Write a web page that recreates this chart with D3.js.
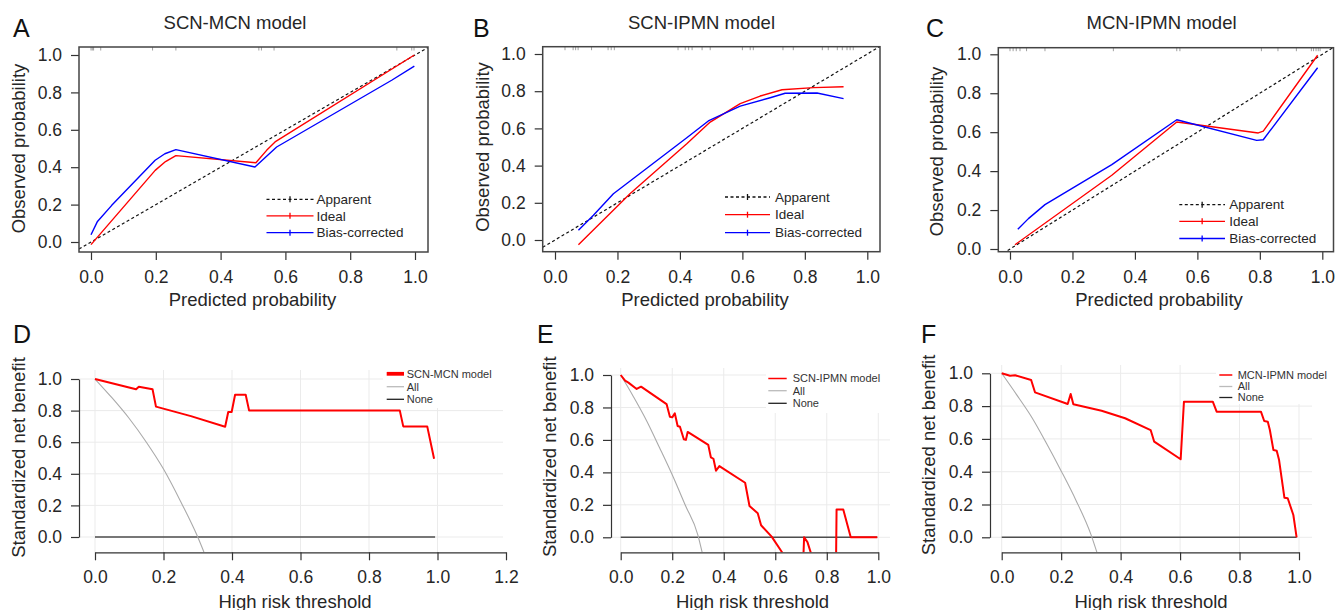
<!DOCTYPE html>
<html>
<head>
<meta charset="utf-8">
<script src="https://cdn.jsdelivr.net/npm/d3@7"></script>
<style>
  body { margin: 0; background: #fff; }
  svg { display: block; font-family: "Liberation Sans", Arial, Helvetica, sans-serif; }
</style>
</head>
<body>
<svg id="chart" width="1337" height="610"></svg>
<script>
// ---- tick labels / legend text ----
const probTicks = [0, 0.2, 0.4, 0.6, 0.8, 1.0];
const benefitTicks = [0, 0.2, 0.4, 0.6, 0.8, 1.0];
const thresholdTicks = [0, 0.2, 0.4, 0.6, 0.8, 1.0];
const thresholdTicksWide = [0, 0.2, 0.4, 0.6, 0.8, 1.0, 1.2];
const calibLegend = ["Apparent", "Ideal", "Bias-corrected"];

// ---- calibration curves [predicted, observed] ----
const scnMcnIdeal = [[0, -0.014], [0.198, 0.383], [0.23, 0.43], [0.262, 0.462], [0.509, 0.424],
  [0.542, 0.49], [0.568, 0.535], [0.998, 1.0]];
const scnMcnBias = [[0, 0.039], [0.02, 0.11], [0.064, 0.196], [0.198, 0.437], [0.228, 0.472],
  [0.262, 0.494], [0.506, 0.401], [0.573, 0.508], [0.928, 0.865], [0.998, 0.941]];
const scnMcnRug = [0, 0.004, 0.008, 0.03, 0.19, 0.262, 0.518, 0.526, 0.565, 0.944, 0.99, 0.997];

const scnIpmnIdeal = [[0.075, -0.025], [0.24, 0.249], [0.422, 0.518], [0.497, 0.634], [0.593, 0.733],
  [0.657, 0.774], [0.727, 0.808], [0.828, 0.819], [0.924, 0.824]];
const scnIpmnBias = [[0.075, 0.052], [0.123, 0.133], [0.187, 0.249], [0.422, 0.55], [0.491, 0.64],
  [0.593, 0.72], [0.689, 0.765], [0.737, 0.789], [0.839, 0.79], [0.924, 0.76]];
const scnIpmnRug = [0.032, 0.058, 0.066, 0.074, 0.117, 0.17, 0.18, 0.19, 0.394, 0.417, 0.428, 0.439,
  0.471, 0.497, 0.6, 0.625, 0.635, 0.73, 0.763, 0.856, 0.875, 0.904, 0.92, 0.935, 0.945, 0.955];

const mcnIpmnIdeal = [[0.016, 0.022], [0.326, 0.379], [0.534, 0.652], [0.795, 0.596], [0.811, 0.605],
  [0.985, 0.995]];
const mcnIpmnBias = [[0.025, 0.101], [0.059, 0.156], [0.112, 0.228], [0.326, 0.433], [0.534, 0.664],
  [0.79, 0.558], [0.811, 0.561], [0.985, 0.931]];
const mcnIpmnRug = [0, 0.01, 0.02, 0.032, 0.053, 0.112, 0.331, 0.534, 0.544, 0.805, 0.858, 0.917,
  0.965, 0.972, 0.98, 0.987, 0.993];

// ---- decision curves [threshold, standardized net benefit] ----
const scnMcnNb = [[0, 1.0], [0.12, 0.935], [0.128, 0.951], [0.168, 0.935], [0.178, 0.825], [0.28, 0.765],
  [0.38, 0.698], [0.389, 0.791], [0.399, 0.791], [0.409, 0.9], [0.44, 0.9], [0.45, 0.8], [0.89, 0.8],
  [0.9, 0.7], [0.97, 0.7], [0.99, 0.495]];
const scnMcnAll = [[0, 1], [0.05, 0.88], [0.1, 0.75], [0.15, 0.6], [0.2, 0.43], [0.25, 0.225], [0.3, 0],
  [0.318, -0.095]];
const scnMcnNone = [[0, 0], [0.993, 0]];

const scnIpmnNb = [[0, 1.0], [0.017, 0.965], [0.03, 0.953], [0.062, 0.914], [0.079, 0.928], [0.178, 0.821],
  [0.191, 0.743], [0.2, 0.739], [0.21, 0.764], [0.221, 0.686], [0.23, 0.681], [0.245, 0.604], [0.253, 0.6],
  [0.26, 0.649], [0.34, 0.569], [0.35, 0.493], [0.36, 0.484], [0.37, 0.41], [0.383, 0.439], [0.483, 0.336],
  [0.5, 0.193], [0.532, 0.148], [0.545, 0.074], [0.586, 0.004], [0.625, -0.089], [0.66, -0.2], [0.705, -0.3],
  [0.712, 0.0], [0.725, -0.03], [0.739, -0.1], [0.76, -0.3], [0.835, -0.3], [0.838, 0.172], [0.864, 0.172],
  [0.893, 0.0], [0.996, 0.0]];
const scnIpmnAll = [[0, 1], [0.05, 0.865], [0.1, 0.72], [0.15, 0.555], [0.2, 0.385], [0.25, 0.2], [0.3, 0.012],
  [0.316, -0.092]];
const scnIpmnNone = [[0, 0], [0.996, 0]];

const mcnIpmnNb = [[0, 1.0], [0.028, 0.985], [0.045, 0.988], [0.099, 0.959], [0.112, 0.884], [0.222, 0.813],
  [0.232, 0.874], [0.241, 0.811], [0.336, 0.772], [0.415, 0.726], [0.501, 0.654], [0.513, 0.583],
  [0.602, 0.476], [0.613, 0.827], [0.71, 0.827], [0.723, 0.766], [0.872, 0.766], [0.883, 0.709],
  [0.895, 0.705], [0.902, 0.654], [0.914, 0.532], [0.925, 0.528], [0.933, 0.471], [0.951, 0.241],
  [0.962, 0.238], [0.981, 0.136], [0.992, 0.0]];
const mcnIpmnAll = [[0, 1], [0.05, 0.87], [0.1, 0.735], [0.15, 0.575], [0.2, 0.405], [0.25, 0.225], [0.3, 0.018],
  [0.32, -0.09]];
const mcnIpmnNone = [[0, 0], [0.992, 0]];

// ---- drawing ----
const FONT = '"Liberation Sans", Arial, Helvetica, sans-serif';
const INK = "#262626";
const fmt = d3.format(".1f");
const svg = d3.select("#chart");

function styleAxis(g) {
  g.attr("font-family", FONT).attr("font-size", 17.5);
  g.selectAll(".tick text").attr("fill", INK);
  g.selectAll(".domain, .tick line").attr("stroke", "#333").attr("stroke-width", 1.2);
}

function label(g, txt, x, y, size, rotate) {
  g.append("text")
    .attr("transform", `translate(${x},${y})` + (rotate ? " rotate(-90)" : ""))
    .attr("text-anchor", "middle")
    .attr("font-size", size)
    .attr("fill", INK)
    .text(txt);
}

function calibrationPanel(p) {
  const b = p.box;
  const x = d3.scaleLinear().domain([0, 1]).range([p.x0, p.x1]);
  const y = d3.scaleLinear().domain([0, 1]).range([p.y0, p.y1]);
  const g = svg.append("g");
  const clipId = "clip" + p.letter;
  g.append("clipPath").attr("id", clipId).append("rect")
    .attr("x", b.l).attr("y", b.t).attr("width", b.r - b.l).attr("height", b.b - b.t);

  // rug of predicted values
  g.append("g").selectAll("line").data(p.rug).join("line")
    .attr("x1", d => x(d)).attr("x2", d => x(d))
    .attr("y1", b.t).attr("y2", b.t + 3.5)
    .attr("stroke", "#888").attr("stroke-width", 0.8);

  const line = d3.line().x(d => x(d[0])).y(d => y(d[1]));
  const lo = x.invert(b.l), hi = x.invert(b.r);
  const plot = g.append("g").attr("clip-path", `url(#${clipId})`);
  plot.append("path").datum([[lo, lo], [hi, hi]]).attr("d", line)
    .attr("fill", "none").attr("stroke", "#111").attr("stroke-width", 1.2).attr("stroke-dasharray", "3,2.5");
  plot.append("path").datum(p.ideal).attr("d", line)
    .attr("fill", "none").attr("stroke", "#ff0000").attr("stroke-width", 1.4).attr("stroke-linejoin", "round");
  plot.append("path").datum(p.bias).attr("d", line)
    .attr("fill", "none").attr("stroke", "#0000ff").attr("stroke-width", 1.4).attr("stroke-linejoin", "round");

  g.append("g").attr("transform", `translate(0,${b.b})`)
    .call(d3.axisBottom(x).tickValues(probTicks).tickFormat(fmt).tickSize(8).tickPadding(10.5).tickSizeOuter(0))
    .call(styleAxis)
    .select(".domain").remove();
  g.append("g").attr("transform", `translate(${b.l},0)`)
    .call(d3.axisLeft(y).tickValues(probTicks).tickFormat(fmt).tickSize(8).tickPadding(9).tickSizeOuter(0))
    .call(styleAxis)
    .select(".domain").remove();

  g.append("rect").attr("x", b.l).attr("y", b.t).attr("width", b.r - b.l).attr("height", b.b - b.t)
    .attr("fill", "none").attr("stroke", "#444").attr("stroke-width", 1.5);

  // legend
  const styles = [
    { stroke: "#111", dash: "3,2.5" },
    { stroke: "#ff0000", dash: null },
    { stroke: "#0000ff", dash: null }
  ];
  const lg = g.append("g").attr("font-size", 13.5).attr("fill", INK);
  calibLegend.forEach((name, i) => {
    const ry = p.legend.rows[i];
    lg.append("line").attr("x1", p.legend.x0).attr("x2", p.legend.x1).attr("y1", ry).attr("y2", ry)
      .attr("stroke", styles[i].stroke).attr("stroke-width", 1.3).attr("stroke-dasharray", styles[i].dash);
    const mx = (p.legend.x0 + p.legend.x1) / 2;
    lg.append("line").attr("x1", mx).attr("x2", mx).attr("y1", ry - 3).attr("y2", ry + 3)
      .attr("stroke", styles[i].stroke).attr("stroke-width", 1.3);
    lg.append("text").attr("x", p.legend.tx).attr("y", ry).attr("dy", "0.35em").text(name);
  });

  label(g, p.title, p.titleX, 28.5, 18.5);
  label(g, "Predicted probability", p.xlabX, 306, 18.5);
  label(g, "Observed probability", p.ylabX, p.ylabY, 18.5, true);
  g.append("text").attr("x", p.letterX).attr("y", 37).attr("font-size", 25).attr("fill", "#111").text(p.letter);
}

function decisionPanel(p) {
  const a = p.area;
  const x = d3.scaleLinear().domain([0, p.ticks[p.ticks.length - 1]]).range([p.x0, p.x1]);
  const y = d3.scaleLinear().domain([0, 1]).range([p.y0, p.y1]);
  const g = svg.append("g");
  const clipId = "clip" + p.letter;
  g.append("clipPath").attr("id", clipId).append("rect")
    .attr("x", a.l).attr("y", a.t).attr("width", a.r - a.l).attr("height", a.b - a.t);

  // grid
  const grid = g.append("g").attr("stroke", "#ebebeb").attr("stroke-width", 1);
  grid.selectAll("line.v").data(thresholdTicks).join("line").attr("class", "v")
    .attr("x1", d => x(d)).attr("x2", d => x(d)).attr("y1", a.t).attr("y2", a.b);
  grid.selectAll("line.h").data(benefitTicks).join("line").attr("class", "h")
    .attr("x1", a.l).attr("x2", a.r).attr("y1", d => y(d)).attr("y2", d => y(d));

  // legend background
  g.append("rect").attr("x", p.legend.box[0]).attr("y", p.legend.box[1])
    .attr("width", p.legend.box[2] - p.legend.box[0]).attr("height", p.legend.box[3] - p.legend.box[1])
    .attr("fill", "#fff");

  const line = d3.line().x(d => x(d[0])).y(d => y(d[1]));
  const smooth = d3.line().x(d => x(d[0])).y(d => y(d[1])).curve(d3.curveMonotoneX);
  const plot = g.append("g").attr("clip-path", `url(#${clipId})`);
  plot.append("path").datum(p.none).attr("d", line)
    .attr("fill", "none").attr("stroke", "#4d4d4d").attr("stroke-width", 1.5);
  plot.append("path").datum(p.all).attr("d", smooth)
    .attr("fill", "none").attr("stroke", "#aaa").attr("stroke-width", 1.1);
  plot.append("path").datum(p.model).attr("d", line)
    .attr("fill", "none").attr("stroke", "#ff0000").attr("stroke-width", 2).attr("stroke-linejoin", "round");

  g.append("g").attr("transform", `translate(0,${a.b})`)
    .call(d3.axisBottom(x).tickValues(p.ticks).tickFormat(fmt).tickSize(8).tickPadding(10.4).tickSizeOuter(0))
    .call(styleAxis);
  g.append("g").attr("transform", `translate(${a.l},0)`)
    .call(d3.axisLeft(y).tickValues(benefitTicks).tickFormat(fmt).tickSize(8).tickPadding(9).tickSizeOuter(0))
    .call(styleAxis);

  // legend
  const items = [
    { name: p.modelName, stroke: "#ff0000", w: p.legend.modelWidth },
    { name: "All", stroke: "#bbb", w: 1.3 },
    { name: "None", stroke: "#222", w: 1.3 }
  ];
  const lg = g.append("g").attr("font-size", 11).attr("fill", "#333");
  items.forEach((it, i) => {
    const ry = p.legend.rows[i];
    lg.append("line").attr("x1", p.legend.x0).attr("x2", p.legend.x1).attr("y1", ry).attr("y2", ry)
      .attr("stroke", it.stroke).attr("stroke-width", it.w);
    lg.append("text").attr("x", p.legend.tx).attr("y", ry).attr("dy", "0.35em").text(it.name);
  });

  label(g, "High risk threshold", p.xlabX, 607.5, 18.5);
  label(g, "Standardized net benefit", p.ylabX, p.ylabY, 18.5, true);
  g.append("text").attr("x", p.letterX).attr("y", 343).attr("font-size", 25).attr("fill", "#111").text(p.letter);
}

calibrationPanel({
  letter: "A", letterX: 13, title: "SCN-MCN model", titleX: 235, xlabX: 252.5, ylabX: 25, ylabY: 148.5,
  box: { l: 79, t: 47, r: 428, b: 252 }, x0: 91, x1: 415, y0: 242, y1: 55,
  ideal: scnMcnIdeal, bias: scnMcnBias, rug: scnMcnRug,
  legend: { x0: 266.5, x1: 313.5, tx: 316.5, rows: [199.3, 215.8, 232.7] }
});
calibrationPanel({
  letter: "B", letterX: 473, title: "SCN-IPMN model", titleX: 701.5, xlabX: 705, ylabX: 488.5, ylabY: 147,
  box: { l: 542.7, t: 46.7, r: 880, b: 251.7 }, x0: 555, x1: 867.3, y0: 240, y1: 54,
  ideal: scnIpmnIdeal, bias: scnIpmnBias, rug: scnIpmnRug,
  legend: { x0: 725, x1: 770, tx: 775, rows: [197, 214.7, 232.7] }
});
calibrationPanel({
  letter: "C", letterX: 926, title: "MCN-IPMN model", titleX: 1161.5, xlabX: 1159, ylabX: 942.5, ylabY: 151.5,
  box: { l: 998.3, t: 47.7, r: 1333.5, b: 251.7 }, x0: 1010, x1: 1322.3, y0: 249, y1: 54.3,
  ideal: mcnIpmnIdeal, bias: mcnIpmnBias, rug: mcnIpmnRug,
  legend: { x0: 1179.3, x1: 1225, tx: 1229.3, rows: [204.7, 221.3, 238.5] }
});

decisionPanel({
  letter: "D", letterX: 13, modelName: "SCN-MCN model", xlabX: 295, ylabX: 24.5, ylabY: 457.5,
  ticks: thresholdTicksWide, x0: 95, x1: 506, y0: 537, y1: 379,
  area: { l: 79, t: 370, r: 503, b: 552.3 },
  model: scnMcnNb, all: scnMcnAll, none: scnMcnNone,
  legend: { box: [383, 364, 503, 408], x0: 386.7, x1: 404, tx: 406.7, rows: [373.8, 386.7, 399.3], modelWidth: 3.8 }
});
decisionPanel({
  letter: "E", letterX: 537, modelName: "SCN-IPMN model", xlabX: 752.5, ylabX: 556, ylabY: 456.7,
  ticks: thresholdTicks, x0: 620.7, x1: 878.3, y0: 537.3, y1: 375,
  area: { l: 611, t: 368, r: 890, b: 552.3 },
  model: scnIpmnNb, all: scnIpmnAll, none: scnIpmnNone,
  legend: { box: [766, 364, 892, 413], x0: 768.3, x1: 786.7, tx: 792.7, rows: [378.5, 390.7, 403.3], modelWidth: 1.5 }
});
decisionPanel({
  letter: "F", letterX: 921, modelName: "MCN-IPMN model", xlabX: 1151, ylabX: 935, ylabY: 455,
  ticks: thresholdTicks, x0: 1001.7, x1: 1299, y0: 537.3, y1: 373.3,
  area: { l: 990, t: 365, r: 1312, b: 552.3 },
  model: mcnIpmnNb, all: mcnIpmnAll, none: mcnIpmnNone,
  legend: { box: [1216, 362, 1337, 404], x0: 1219.3, x1: 1232.3, tx: 1237.7, rows: [375, 386.5, 397.5], modelWidth: 1.5 }
});
</script>
</body>
</html>
